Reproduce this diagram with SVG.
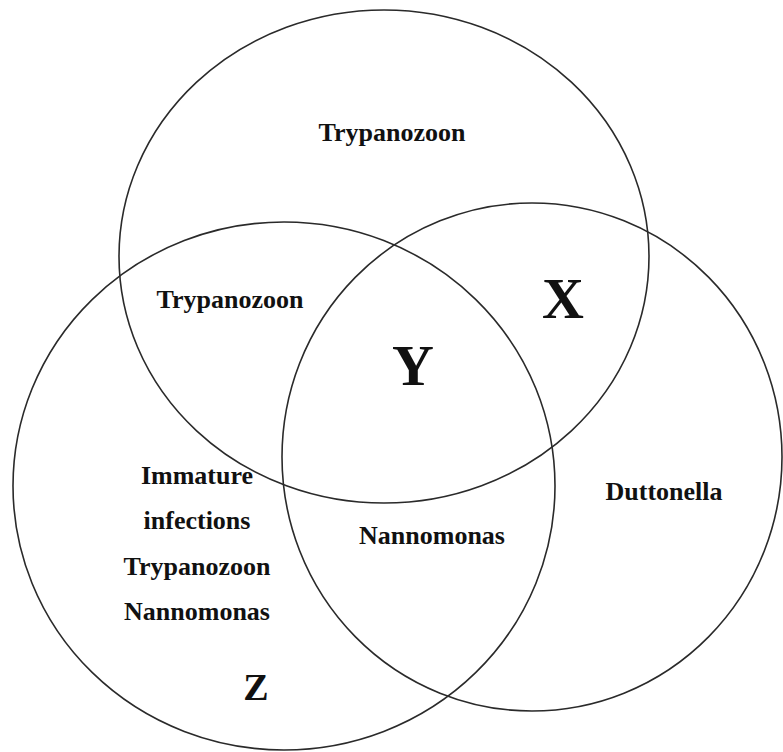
<svg xmlns="http://www.w3.org/2000/svg" width="783" height="752" viewBox="0 0 783 752">
<style>
.c{fill:none;stroke:#2a2a2a;stroke-width:1.6}
.t{font-family:"Liberation Serif","Times New Roman",serif;font-weight:bold;font-size:26px;text-anchor:middle;fill:#111}
.b{font-family:"Liberation Serif","Times New Roman",serif;font-weight:bold;font-size:58px;text-anchor:middle;fill:#111}
</style>
<rect width="783" height="752" fill="#fff"/>
<g id="connectors"></g>
<g id="set-top"><ellipse class="c" cx="384" cy="256.5" rx="265" ry="246.5"/></g>
<g id="set-left"><ellipse class="c" cx="284" cy="486" rx="271" ry="264"/></g>
<g id="set-right"><ellipse class="c" cx="532" cy="457" rx="250" ry="254"/></g>
<g id="label-top"><text class="t" x="392" y="141">Trypanozoon</text></g>
<g id="label-topleft"><text class="t" x="230" y="308">Trypanozoon</text></g>
<g id="label-x"><text class="b" x="563" y="318">X</text></g>
<g id="label-y"><text class="b" x="413" y="385">Y</text></g>
<g id="label-left">
<text class="t" x="197" y="484">Immature</text>
<text class="t" x="197" y="529">infections</text>
<text class="t" x="197" y="575">Trypanozoon</text>
<text class="t" x="197" y="620">Nannomonas</text>
</g>
<g id="label-bottom"><text class="t" x="432" y="544">Nannomonas</text></g>
<g id="label-right"><text class="t" x="664" y="500">Duttonella</text></g>
<g id="label-z"><text class="b" x="256" y="700" style="font-size:38px">Z</text></g>
</svg>
